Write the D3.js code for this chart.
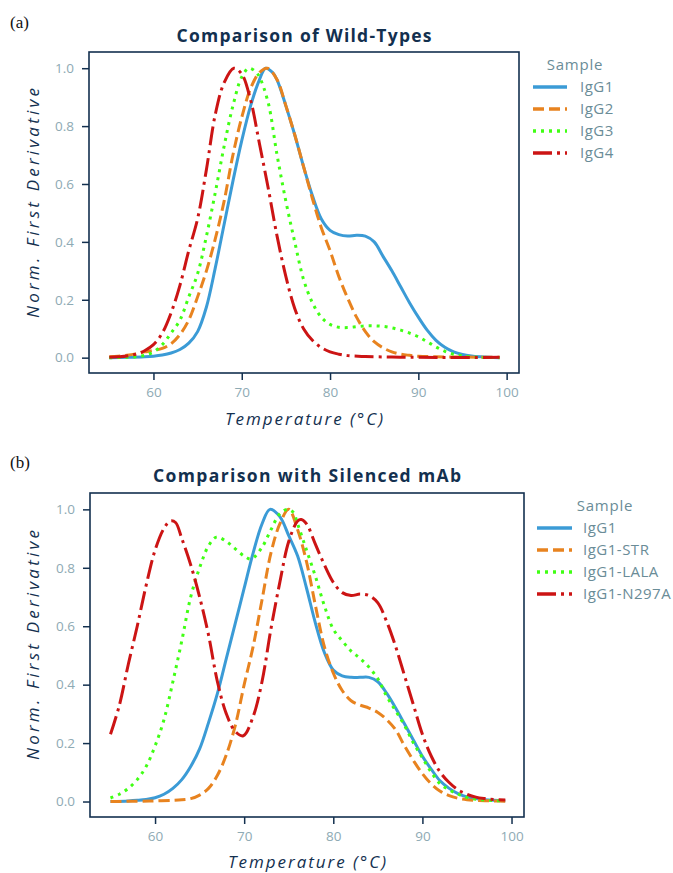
<!DOCTYPE html>
<html><head><meta charset="utf-8">
<script src="https://cdn.jsdelivr.net/npm/d3@7"></script>
<style>body{margin:0;background:#fff}svg{display:block}</style>
</head><body>
<svg id="c" width="673" height="873"></svg>
<script>
// ---------- DATA ----------
const xTicks = [60, 70, 80, 90, 100];
const yTicks = [0.0, 0.2, 0.4, 0.6, 0.8, 1.0];
const panelLabels = ["(a)", "(b)"];
const titles = ["Comparison of Wild-Types", "Comparison with Silenced mAb"];
const samplesA = ["IgG1", "IgG2", "IgG3", "IgG4"];
const samplesB = ["IgG1", "IgG1-STR", "IgG1-LALA", "IgG1-N297A"];

// Panel (a) series: [temperature °C, normalised first derivative]
const a_IgG1 = [[55,0],[57,0.001],[59,0.003],[60,0.005],[61,0.009],[62,0.016],[63,0.028],[64,0.05],[65,0.09],[66,0.175],[67,0.31],[68,0.46],[69,0.61],[70,0.75],[71,0.87],[72,0.96],[72.7,1.0],[73.5,0.985],[74,0.96],[75,0.87],[76,0.77],[77,0.66],[78,0.56],[79,0.48],[80,0.44],[81,0.425],[82,0.42],[83,0.423],[84,0.42],[85,0.40],[86,0.35],[87,0.30],[88,0.245],[89,0.19],[90,0.14],[91,0.095],[92,0.06],[93,0.036],[94,0.02],[95,0.011],[96,0.006],[97,0.003],[98,0.001],[99.2,0]];
const a_IgG2 = [[55,0.003],[56,0.005],[57,0.008],[58,0.013],[59,0.02],[60,0.025],[61,0.032],[62,0.048],[63,0.08],[64,0.13],[65,0.21],[66,0.30],[67,0.41],[68,0.54],[69,0.70],[70,0.83],[71,0.93],[72,0.985],[72.9,1.0],[74,0.96],[75,0.87],[76,0.77],[77,0.66],[78,0.55],[79,0.45],[80,0.37],[81,0.28],[82,0.205],[83,0.14],[84,0.09],[85,0.055],[86,0.034],[87,0.02],[88,0.012],[89,0.008],[90,0.005],[92,0.003],[95,0.002],[99.2,0.001]];
const a_IgG3 = [[55,0],[57,0.001],[58,0.003],[59,0.008],[60,0.02],[61,0.045],[62,0.085],[63,0.13],[64,0.21],[65,0.29],[66,0.42],[67,0.57],[68,0.73],[69,0.87],[70,0.97],[70.8,1.0],[71.5,0.99],[72,0.97],[73,0.88],[74,0.70],[75,0.54],[76,0.40],[77,0.27],[78,0.19],[79,0.14],[80,0.115],[81,0.105],[82,0.104],[83,0.107],[84,0.11],[85,0.11],[86,0.108],[87,0.103],[88,0.095],[89,0.085],[90,0.072],[91,0.055],[92,0.037],[93,0.022],[94,0.012],[95,0.006],[96,0.003],[97,0.001],[99.2,0]];
const a_IgG4 = [[55,0.001],[56,0.003],[57,0.006],[58,0.012],[59,0.024],[60,0.045],[61,0.085],[62,0.155],[63,0.25],[64,0.37],[65,0.48],[66,0.65],[67,0.84],[68,0.95],[69.1,1.0],[70,0.98],[71,0.89],[72,0.74],[73,0.585],[74,0.42],[75,0.28],[76,0.17],[77,0.10],[78,0.06],[79,0.035],[80,0.02],[81,0.012],[82,0.007],[84,0.004],[87,0.002],[90,0.001],[99.2,0.001]];

// Panel (b) series
const b_IgG1 = [[55,0],[57,0.002],[58,0.004],[59,0.007],[60,0.013],[61,0.025],[62,0.045],[63,0.075],[64,0.12],[65,0.18],[66,0.27],[67,0.37],[68,0.49],[69,0.61],[70,0.73],[71,0.85],[72,0.95],[72.9,1.0],[74,0.975],[75,0.91],[76,0.84],[77,0.73],[78,0.61],[79,0.51],[80,0.45],[81,0.43],[82,0.425],[83,0.425],[84,0.425],[85,0.41],[86,0.37],[87,0.32],[88,0.265],[89,0.21],[90,0.155],[91,0.11],[92,0.07],[93,0.045],[94,0.027],[95,0.016],[96,0.01],[97,0.006],[98,0.004],[99.3,0.003]];
const b_STR = [[55,0],[58,0.001],[60,0.002],[62,0.004],[63,0.006],[64,0.01],[65,0.022],[66,0.045],[67,0.09],[68,0.16],[69,0.26],[70,0.40],[71,0.53],[72,0.69],[73,0.85],[74,0.95],[75,1.0],[76,0.93],[77,0.82],[78,0.67],[79,0.53],[80,0.44],[81,0.38],[82,0.345],[83,0.33],[84,0.32],[85,0.305],[86,0.28],[87,0.245],[88,0.19],[89,0.14],[90,0.095],[91,0.06],[92,0.035],[93,0.02],[94,0.011],[95,0.006],[96,0.004],[97,0.003],[98,0.002],[99.3,0.001]];
const b_LALA = [[55,0.012],[56,0.025],[57,0.045],[58,0.075],[59,0.12],[60,0.19],[61,0.28],[62,0.41],[63,0.55],[64,0.70],[65,0.80],[66,0.875],[66.9,0.905],[68,0.89],[69,0.865],[70,0.84],[70.8,0.83],[72,0.87],[73,0.93],[74,0.985],[74.8,1.0],[75.5,0.99],[76,0.95],[77,0.86],[78,0.77],[79,0.67],[80,0.59],[81,0.55],[82,0.515],[83,0.49],[84,0.46],[85,0.42],[86,0.36],[87,0.31],[88,0.26],[89,0.20],[90,0.15],[91,0.10],[92,0.06],[93,0.04],[94,0.025],[95,0.014],[96,0.008],[97,0.005],[98,0.003],[99.3,0.002]];
const b_N297A = [[55,0.23],[56,0.33],[57,0.47],[58,0.60],[59,0.74],[60,0.86],[61,0.935],[61.7,0.96],[62.3,0.955],[63,0.90],[64,0.81],[65,0.70],[66,0.57],[67,0.41],[68,0.30],[69,0.24],[69.9,0.225],[71,0.29],[72,0.41],[73,0.59],[74,0.75],[75,0.89],[76,0.96],[76.4,0.965],[77,0.95],[78,0.88],[79,0.81],[80,0.75],[81,0.715],[82,0.705],[83,0.71],[84,0.705],[85,0.68],[86,0.615],[87,0.53],[88,0.43],[89,0.33],[90,0.23],[91,0.155],[92,0.10],[93,0.065],[94,0.04],[95,0.025],[96,0.015],[97,0.01],[98,0.007],[99.3,0.005]];

// ---------- STYLE ----------
const colors = ["#3b9bd6", "#e8831f", "#40ff14", "#cc1414"];
const dashes = [null, "11,5", "3,5", "19,5,3,5"];
const navy = "#13304f";
const tickCol = "#8eaab4";
const legCol = "#6a8c97";
const FONT = "'Open Sans', 'Noto Sans', sans-serif";

const svg = d3.select("#c");

const panels = [
  {label: panelLabels[0], labelY: 28, title: titles[0], titleY: 42, titleW: 255, box: {l: 89, t: 52, r: 519, b: 373},
   series: [a_IgG1, a_IgG2, a_IgG3, a_IgG4], names: samplesA,
   leg: {sx: 575, sy: 70, x0: 533, x1: 567, tx: 580, rows: [87, 109, 131, 153]},
   xTitleY: 425, yTitleY: 203},
  {label: panelLabels[1], labelY: 468, title: titles[1], titleY: 482, titleW: 308, box: {l: 90, t: 493, r: 524, b: 817},
   series: [b_IgG1, b_STR, b_LALA, b_N297A], names: samplesB,
   leg: {sx: 605, sy: 511, x0: 537, x1: 572, tx: 583, rows: [528, 550, 572, 594]},
   xTitleY: 868, yTitleY: 645}
];

panels.forEach(p => {
  const g = svg.append("g");
  const x = d3.scaleLinear().domain([52.7, 101.4]).range([p.box.l, p.box.r]);
  const y = d3.scaleLinear().domain([-0.053, 1.056]).range([p.box.b, p.box.t]);

  // panel label
  g.append("text").attr("x", 10).attr("y", p.labelY).text(p.label)
    .attr("font-family", "'Liberation Serif', 'Times New Roman', serif").attr("font-size", 17).attr("fill", "#111");

  // title
  g.append("text").attr("x", (p.box.l + p.box.r) / 2).attr("y", p.titleY).attr("text-anchor", "middle")
    .text(p.title).attr("font-family", FONT).attr("font-weight", 700).attr("font-size", 17.5)
    .attr("textLength", p.titleW).attr("lengthAdjust", "spacing").attr("fill", navy);

  // axes
  const xAxis = g.append("g").attr("transform", `translate(0,${p.box.b})`)
    .call(d3.axisBottom(x).tickValues(xTicks).tickSize(7).tickPadding(7).tickFormat(d3.format("d")));
  const yAxis = g.append("g").attr("transform", `translate(${p.box.l},0)`)
    .call(d3.axisLeft(y).tickValues(yTicks).tickSize(7).tickPadding(8).tickFormat(d3.format(".1f")));
  [xAxis, yAxis].forEach(ax => {
    ax.select(".domain").remove();
    ax.selectAll(".tick line").attr("stroke", navy).attr("stroke-width", 1.5);
    ax.selectAll(".tick text").attr("fill", tickCol).attr("font-family", FONT).attr("font-size", 13.5);
  });

  // frame
  g.append("rect").attr("x", p.box.l).attr("y", p.box.t)
    .attr("width", p.box.r - p.box.l).attr("height", p.box.b - p.box.t)
    .attr("fill", "none").attr("stroke", navy).attr("stroke-width", 1.6);

  // lines
  const line = d3.line().x(d => x(d[0])).y(d => y(d[1])).curve(d3.curveCatmullRom.alpha(0.5));
  p.series.forEach((s, i) => {
    g.append("path").datum(s).attr("d", line).attr("fill", "none")
      .attr("stroke", colors[i]).attr("stroke-width", 3)
      .attr("stroke-dasharray", dashes[i]).attr("stroke-linejoin", "round");
  });

  // axis titles
  g.append("text").attr("x", (p.box.l + p.box.r) / 2).attr("y", p.xTitleY).attr("text-anchor", "middle")
    .attr("font-family", FONT).attr("font-style", "italic").attr("font-size", 17).attr("fill", navy)
    .attr("textLength", 158).attr("lengthAdjust", "spacing").text("Temperature (°C)");
  g.append("text").attr("transform", `translate(39,${p.yTitleY}) rotate(-90)`).attr("text-anchor", "middle")
    .attr("font-family", FONT).attr("font-style", "italic").attr("font-size", 17).attr("fill", navy)
    .attr("textLength", 230).attr("lengthAdjust", "spacing").text("Norm. First Derivative");

  // legend
  g.append("text").attr("x", p.leg.sx).attr("y", p.leg.sy).attr("text-anchor", "middle")
    .attr("font-family", FONT).attr("font-size", 15).attr("letter-spacing", 0.8).attr("fill", legCol).text("Sample");
  p.names.forEach((n, i) => {
    const yy = p.leg.rows[i];
    g.append("line").attr("x1", p.leg.x0).attr("x2", p.leg.x1).attr("y1", yy).attr("y2", yy)
      .attr("stroke", colors[i]).attr("stroke-width", 3.5).attr("stroke-dasharray", dashes[i]);
    g.append("text").attr("x", p.leg.tx).attr("y", yy).attr("dy", "0.35em")
      .attr("font-family", FONT).attr("font-size", 15).attr("letter-spacing", 0.5).attr("fill", legCol).text(n);
  });
});
</script>
</body></html>
